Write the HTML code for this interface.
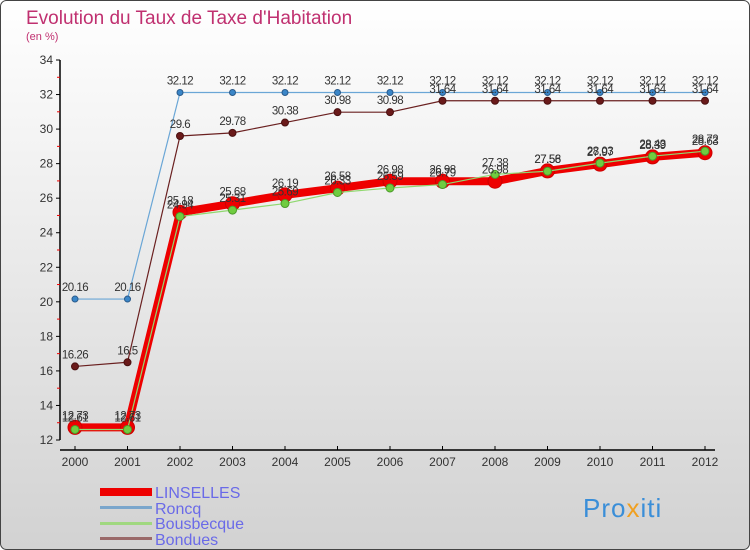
<!DOCTYPE html>
<html><head><meta charset="utf-8"><style>
body{margin:0;}
#wrap{width:750px;height:550px;position:relative;overflow:hidden;font-family:"Liberation Sans",sans-serif;}
</style></head><body>
<div id="wrap">
<svg id="chart" width="750" height="550" xmlns="http://www.w3.org/2000/svg">
<defs><linearGradient id="bg" x1="0" y1="0" x2="0" y2="1"><stop offset="0" stop-color="#ffffff"/><stop offset="1" stop-color="#d2d2d2"/></linearGradient></defs>
<rect x="0.5" y="0.5" width="749" height="549" rx="6" fill="url(#bg)" stroke="#444"/>
<text x="26" y="24" font-size="19" fill="#c03070">Evolution du Taux de Taxe d'Habitation</text>
<text x="26" y="40" font-size="11" fill="#c03070">(en %)</text>
<g id="axes"></g><g id="series"></g><g id="labels"></g>
<g>
<rect x="100" y="488" width="52" height="8" fill="#ee0000"/>
<text x="155" y="498" font-size="16" fill="#6a6ae8">LINSELLES</text>
<rect x="100" y="506" width="52" height="3" fill="#7aa6cc"/>
<text x="155" y="514" font-size="16" fill="#6a6ae8">Roncq</text>
<rect x="100" y="522" width="52" height="3" fill="#a0d880"/>
<text x="155" y="529" font-size="16" fill="#6a6ae8">Bousbecque</text>
<rect x="100" y="537" width="52" height="3" fill="#9a6a6a"/>
<text x="155" y="545" font-size="16" fill="#6a6ae8">Bondues</text>
</g>
<text x="583" y="517" font-size="26" fill="#3a8ed8" letter-spacing="1">Pro<tspan fill="#f0a020">x</tspan>iti</text>
</svg></div>
<script>
const years=[2000,2001,2002,2003,2004,2005,2006,2007,2008,2009,2010,2011,2012];
const yTicks=[12,14,16,18,20,22,24,26,28,30,32,34];
const linselles=[12.73,12.73,25.18,25.68,26.19,26.58,26.98,26.98,26.98,27.58,27.97,28.39,28.63];
const roncq=[20.16,20.16,32.12,32.12,32.12,32.12,32.12,32.12,32.12,32.12,32.12,32.12,32.12];
const bousbecque=[12.61,12.61,24.94,25.31,25.69,26.33,26.59,26.79,27.38,27.56,28.03,28.43,28.72];
const bondues=[16.26,16.5,29.6,29.78,30.38,30.98,30.98,31.64,31.64,31.64,31.64,31.64,31.64];
const NS="http://www.w3.org/2000/svg";
const xS=i=>75+i*52.5;
const yS=v=>440-(v-12)*(380/22);
function mk(tag,attrs,parent){const e=document.createElementNS(NS,tag);for(const k in attrs)e.setAttribute(k,attrs[k]);parent.appendChild(e);return e;}
const ax=document.getElementById('axes'),sg=document.getElementById('series'),lg=document.getElementById('labels');
let l=mk('line',{x1:60,y1:60,x2:60,y2:440,stroke:'#000','stroke-width':1.5},ax);


l=mk('line',{x1:60,y1:450,x2:715,y2:450,stroke:'#000','stroke-width':1.5},ax);


yTicks.forEach(v=>{
 const t=mk('line',{x1:56,y1:yS(v),x2:60,y2:yS(v),stroke:'#000'},ax);
 
 
 if(v<34){const m=mk('line',{x1:57,y1:yS(v+1),x2:60,y2:yS(v+1),stroke:'#e00'},ax);
 
 }
 const tx=mk('text',{x:53,y:yS(v)+4,'text-anchor':'end','font-size':12,fill:'#333'},ax);
 tx.textContent=v;
 
 
});
years.forEach((y,i)=>{
 const t=mk('line',{x1:xS(i),y1:446,x2:xS(i),y2:450,stroke:'#000'},ax);
 
 
 const tx=mk('text',{x:xS(i),y:466,'text-anchor':'middle','font-size':12,fill:'#333'},ax);
 tx.textContent=y;
 
 
});
function series(arr,name,color,w,r,dot,dotStroke){
 const p=mk('polyline',{points:arr.map((v,i)=>xS(i)+','+yS(v)).join(' '),fill:'none',stroke:color,'stroke-width':w,'stroke-linejoin':'round'},sg);
 
 
 arr.forEach((v,i)=>{
  const c=mk('circle',{cx:xS(i),cy:yS(v),r:r,fill:dot,stroke:dotStroke,'stroke-width':1},sg);
  
  
  const t=mk('text',{x:xS(i),y:yS(v)-8,'text-anchor':'middle','font-size':11.5,'letter-spacing':'-0.5',fill:'#333'},lg);
  t.textContent=v;
  
  
 });
}
series(roncq,'roncq','#6aa6d6',1.2,3,'#3a86c8','#2a5a8a');
series(bondues,'bondues','#6a2020',1.2,3.5,'#6a1a1a','#4a1010');
series(linselles,'linselles','#ee0000',8,7,'#ee0000','#c00');
series(bousbecque,'bousbecque','#90d870',1.2,4,'#70cc40','#4a9a2a');
</script>
</body></html>
